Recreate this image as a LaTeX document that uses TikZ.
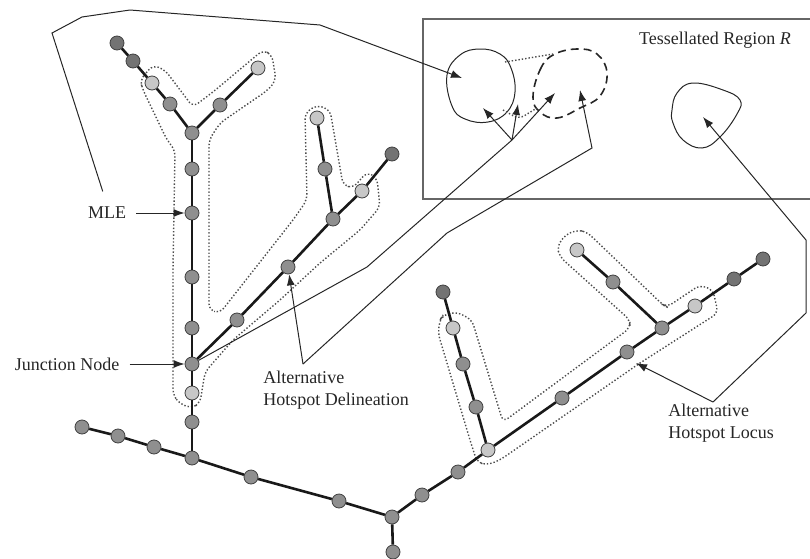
\documentclass[tikz,border=0pt]{standalone}
\usepackage{fontspec}
\setmainfont{Liberation Serif}
\usetikzlibrary{arrows.meta}

\tikzset{
  vtx/.style={circle, draw=black!75, line width=0.4pt, minimum size=7pt, inner sep=0pt},
  dk/.style={vtx, fill=black!55},
  md/.style={vtx, fill=black!44},
  lt/.style={vtx, fill=black!22},
  edge/.style={line width=1.3pt, black!90},
  link/.style={line width=0.5pt, black!85},
  ptr/.style={link, -{Latex[length=5.5pt,width=4pt]}},
  hull/.style={densely dotted, line width=0.7pt, black!70, rounded corners=3pt},
  lbl/.style={font=\fontsize{9}{11}\selectfont, text=black!85, inner sep=1pt},
}

\begin{document}
\begin{tikzpicture}[x=0.5pt,y=-0.5pt]
    \useasboundingbox (0,0) rectangle (810,558);

    % Tessellated region
    \draw[line width=0.6pt, black!60] (815,19) -- (423,19) -- (423,199) -- (815,199);
    \node[lbl] (treg) at (715,40) {Tessellated Region \textit{R}};

    % Zones in the region
    \draw[link] plot[smooth cycle, tension=0.7] coordinates {(447,75) (460,55) (480,49) (500,54) (511,68) (515,92) (507,112) (488,122) (465,119) (452,106)};
    \draw[link, line width=0.8pt, dash pattern=on 4pt off 2.5pt] plot[smooth cycle, tension=0.7] coordinates {(533,97) (540,70) (553,55) (577,49) (597,54) (607,73) (600,96) (580,108) (557,118) (540,112)};
    \draw[link] plot[smooth cycle, tension=0.7] coordinates {(672,110) (677,93) (693,83) (723,90) (740,100) (737,114) (720,137) (702,148) (683,140) (673,123)};
    \draw[hull] (505,62) -- (553,54);
    \draw[hull] (503,110) -- (519,119) -- (537,108);

    % Hotspot outlines
    \draw[hull] (140,80) -- (153,65) -- (165,70) -- (193,107) -- (213,92) -- (263,50) -- (272,55)
        -- (276,80) -- (268,90) -- (220,123) -- (209,140) -- (209,310) -- (220,313) -- (293,220)
        -- (307,200) -- (305,113) -- (317,105) -- (330,110) -- (343,185) -- (353,188) -- (367,172)
        -- (377,178) -- (380,207) -- (360,230) -- (320,263) -- (280,300) -- (233,340) -- (205,372)
        -- (200,403) -- (192,408) -- (180,404) -- (173,395) -- (173,270) -- (175,150) -- (167,140)
        -- (143,90) -- cycle;
    \draw[hull] (443,315) -- (457,312) -- (472,320) -- (503,422) -- (630,328) -- (630,320)
        -- (560,257) -- (557,247) -- (565,235) -- (577,230) -- (587,232) -- (663,305) -- (667,307)
        -- (700,285) -- (713,290) -- (718,313) -- (640,363) -- (500,460) -- (487,465) -- (477,462)
        -- (470,440) -- (438,333) -- (440,320) -- cycle;

    % Network nodes, left tree
    \node[dk] (a1) at (117,43) {};
    \node[dk] (a2) at (133,61) {};
    \node[lt] (a3) at (152,83) {};
    \node[md] (a4) at (170,104) {};
    \node[md] (y1) at (192,133) {};
    \node[md] (a5) at (220,105) {};
    \node[lt] (a6) at (258,68) {};
    \node[md] (v1) at (192,169) {};
    \node[md] (v2) at (192,213) {};
    \node[md] (v3) at (192,277) {};
    \node[md] (v4) at (192,328) {};
    \node[md] (jn) at (192,364) {};
    \node[lt] (v5) at (192,393) {};
    \node[md] (v6) at (192,422) {};
    \node[md] (m0) at (192,458) {};
    \node[md] (d1) at (237,320) {};
    \node[md] (d2) at (288,267) {};
    \node[md] (d3) at (333,219) {};
    \node[lt] (d4) at (362,191) {};
    \node[dk] (d5) at (392,154) {};
    \node[md] (e1) at (325,169) {};
    \node[lt] (e2) at (317,118) {};

    % Network nodes, main line
    \node[md] (m1) at (82,427) {};
    \node[md] (m2) at (118,436) {};
    \node[md] (m3) at (154,447) {};
    \node[md] (m4) at (251,477) {};
    \node[md] (m5) at (339,501) {};
    \node[md] (m6) at (392,517) {};
    \node[md] (m7) at (393,552) {};

    % Network nodes, right tree
    \node[md] (r1) at (422,495) {};
    \node[md] (r2) at (458,472) {};
    \node[lt] (r3) at (488,450) {};
    \node[md] (l1) at (476,407) {};
    \node[md] (l2) at (463,364) {};
    \node[lt] (l3) at (453,328) {};
    \node[dk] (l4) at (443,292) {};
    \node[md] (r4) at (562,398) {};
    \node[md] (r5) at (627,352) {};
    \node[md] (r6) at (662,328) {};
    \node[lt] (r7) at (695,306) {};
    \node[dk] (r8) at (734,279) {};
    \node[dk] (r9) at (763,259) {};
    \node[md] (u1) at (613,282) {};
    \node[lt] (u2) at (577,250) {};

    % Network edges
    \draw[edge] (a1) -- (a2) -- (a3) -- (a4) -- (y1) -- (a5) -- (a6);
    \draw[edge] (y1) -- (v1) -- (v2) -- (v3) -- (v4) -- (jn) -- (v5) -- (v6) -- (m0);
    \draw[edge] (jn) -- (d1) -- (d2) -- (d3) -- (d4) -- (d5);
    \draw[edge] (d3) -- (e1) -- (e2);
    \draw[edge] (m1) -- (m2) -- (m3) -- (m0) -- (m4) -- (m5) -- (m6) -- (r1) -- (r2) -- (r3);
    \draw[edge] (m6) -- (m7);
    \draw[edge] (r3) -- (l1) -- (l2) -- (l3) -- (l4);
    \draw[edge] (r3) -- (r4) -- (r5) -- (r6) -- (r7) -- (r8) -- (r9);
    \draw[edge] (r6) -- (u1) -- (u2);

    % Text labels
    \node[lbl] (mle) at (107,213) {MLE};
    \node[lbl] (jlab) at (67,364) {Junction Node};
    \node[lbl, align=left] (hdel) at (336,390) {Alternative\\Hotspot Delineation};
    \node[lbl, align=left] (hloc) at (721,423) {Alternative\\Hotspot Locus};

    % Pointers
    \coordinate (fork) at (512,140);
    \coordinate (tip0) at (462,78);
    \coordinate (tip1) at (483,108);
    \coordinate (tip2) at (518,104);
    \coordinate (tip3) at (555,93);
    \coordinate (tip4) at (580,90);
    \coordinate (tip5) at (636,363);
    \coordinate (tip6) at (703,117);
    \coordinate (dapex) at (303,364);
    \coordinate (lapex) at (713,402);

    \draw[ptr, shorten <=4pt] (mle) -- (v2);
    \draw[ptr, shorten <=4pt] (jlab) -- (jn);
    \draw[ptr, shorten <=7pt] (mle.north) -- (52,33) -- (82,17) -- (130,10) -- (320,25) -- (tip0);
    \draw[link] (jn) -- (367,267) -- (fork);
    \draw[ptr] (fork) -- (tip1);
    \draw[ptr] (fork) -- (tip2);
    \draw[ptr] (fork) -- (tip3);
    \draw[ptr] (dapex) -- (d2);
    \draw[ptr] (dapex) -- (447,233) -- (592,148) -- (tip4);
    \draw[ptr] (lapex) -- (tip5);
    \draw[ptr] (lapex) -- (806,313) -- (806,240) -- (tip6);

\end{tikzpicture}
\end{document}
